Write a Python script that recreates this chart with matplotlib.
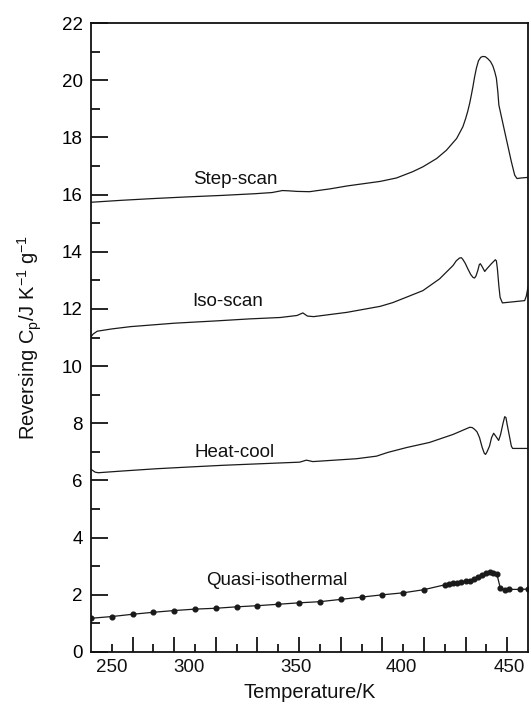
import matplotlib
matplotlib.use("Agg")
import matplotlib.pyplot as plt

plt.rcParams['font.family'] = ['Liberation Sans', 'DejaVu Sans']
plt.rcParams['mathtext.fontset'] = 'custom'
plt.rcParams['mathtext.rm'] = 'Liberation Sans'
plt.rcParams['mathtext.it'] = 'Liberation Sans:italic'

# ---------------- data ----------------
step_T = [250, 265, 280, 297, 313, 329, 337, 342, 345, 349, 355, 365, 373, 380, 389,
          396.8, 404.6, 409.5, 416.1, 420.8, 425.7, 428.7, 430.0, 431.0, 432.0, 432.8,
          433.6, 434.3, 435.2, 436.2, 437.3, 438.3, 439.5, 440.7, 442.0, 443.1, 444.0,
          444.8, 445.5, 446.0, 448.8, 452.0, 453.6, 454.7, 456.8, 460]
step_cp = [15.73, 15.80, 15.86, 15.92, 15.97, 16.03, 16.07, 16.14, 16.13, 16.11, 16.10,
           16.20, 16.30, 16.37, 16.46, 16.58, 16.80, 16.97, 17.26, 17.55, 17.96, 18.37,
           18.65, 18.90, 19.20, 19.49, 19.80, 20.10, 20.42, 20.68, 20.80, 20.83, 20.82,
           20.75, 20.65, 20.50, 20.30, 20.07, 19.60, 19.13, 18.20, 17.15, 16.68, 16.56,
           16.58, 16.60]

iso_T = [250, 251, 253, 260, 269, 290, 310, 326, 341, 349, 351.8, 354, 357, 373, 389,
         395, 401.6, 409.5, 417.5, 424.0, 425.5, 427.1, 428.0, 428.7, 429.8, 431.1,
         432.5, 433.6, 434.3, 435.0, 435.9, 436.6, 437.1, 437.8, 439.2, 440.2, 442.4,
         444.3, 444.8, 445.3, 446.0, 446.6, 447.7, 458.4, 459.2, 460]
iso_cp = [11.02, 11.12, 11.22, 11.30, 11.38, 11.50, 11.58, 11.65, 11.70, 11.77, 11.86,
          11.75, 11.73, 11.88, 12.09, 12.22, 12.41, 12.64, 13.05, 13.52, 13.68, 13.78,
          13.79, 13.73, 13.60, 13.40, 13.20, 13.10, 13.08, 13.15, 13.35, 13.55, 13.58,
          13.50, 13.31, 13.40, 13.58, 13.72, 13.68, 13.40, 12.80, 12.40, 12.21, 12.29,
          12.45, 12.76]

hc_T = [250, 252, 253.5, 265, 281.5, 297, 313.4, 330, 350.3, 353.5, 356.6, 377.6, 387.2,
        392.6, 401.6, 412.7, 424, 432, 433.2, 434.3, 435.5, 436.7, 438.0, 439.0, 439.6,
        440.3, 441.5, 442.5, 443.5, 444.5, 445.9, 446.8, 448.0, 448.8, 449.4, 450.0,
        451.1, 452.0, 452.6, 460]
hc_cp = [6.39, 6.29, 6.27, 6.33, 6.41, 6.47, 6.53, 6.58, 6.64, 6.71, 6.66, 6.76, 6.85,
         6.98, 7.15, 7.33, 7.61, 7.86, 7.85, 7.79, 7.70, 7.50, 7.15, 6.95, 6.91, 7.00,
         7.20, 7.50, 7.65, 7.55, 7.40, 7.60, 8.00, 8.23, 8.20, 7.95, 7.54, 7.20, 7.12,
         7.12]

qi_T = [250, 260, 270, 280, 290, 300, 310, 320, 330, 340, 350, 360, 370, 380, 390, 400,
        410, 420, 422, 424, 426, 428, 430, 432, 434, 436, 438, 440, 441.5, 443, 445,
        446.7, 448.8, 450.8, 456, 460]
qi_cp = [1.18, 1.24, 1.32, 1.39, 1.45, 1.50, 1.53, 1.58, 1.62, 1.67, 1.72, 1.76, 1.84,
         1.92, 2.00, 2.07, 2.18, 2.35, 2.37, 2.40, 2.42, 2.44, 2.47, 2.50, 2.55, 2.62,
         2.71, 2.78, 2.80, 2.76, 2.74, 2.23, 2.18, 2.19, 2.19, 2.20]

curve_labels = ['Step-scan', 'Iso-scan', 'Heat-cool', 'Quasi-isothermal']
label_T = [299.0, 298.5, 299.9, 305.5]
label_cp = [16.36, 12.10, 6.83, 2.33]

y_major = [0, 2, 4, 6, 8, 10, 12, 14, 16, 18, 20, 22]
y_minor = [1, 3, 5, 7, 9, 11, 13, 15, 17, 19, 21]
x_long_ticks = [270, 290, 310, 330, 350, 370, 390, 410, 430, 450]
x_short_ticks = [260, 280, 300, 320, 340, 360, 380, 400, 420, 440]
x_label_pos = [259.8, 297.2, 348.6, 399.0, 450.8]
x_label_txt = ['250', '300', '350', '400', '450']

# ---------------- figure ----------------
fig = plt.figure(figsize=(5.31, 7.15), dpi=100)
ax = fig.add_axes([91/531, 1-652/715, (528-91)/531, (652-23)/715])

lc = '#1a1a1a'
ax.plot(step_T, step_cp, color=lc, lw=0.9)
ax.plot(iso_T, iso_cp, color=lc, lw=0.9)
ax.plot(hc_T, hc_cp, color=lc, lw=0.9)
ax.plot(qi_T, qi_cp, color=lc, lw=0.9, marker='o', ms=3.4, mfc=lc, mec=lc)

for t, x, y in zip(curve_labels, label_T, label_cp):
    ax.text(x, y, t, ha='left', va='baseline', fontsize=13.5, color='#111')

ax.set_xlim(250, 460)
ax.set_ylim(0, 22)

ax.set_yticks(y_major)
ax.set_yticks(y_minor, minor=True)
ax.tick_params(axis='y', which='major', direction='in', length=12, width=1.2,
               labelsize=13.5, pad=6, right=False)
ax.tick_params(axis='y', which='minor', direction='in', length=6.5, width=1.2, right=False)

ax.set_xticks(x_long_ticks)
ax.set_xticklabels([])
ax.set_xticks(x_short_ticks, minor=True)
ax.tick_params(axis='x', which='major', direction='in', length=11, width=1.2, top=False)
ax.tick_params(axis='x', which='minor', direction='in', length=5.5, width=1.2, top=False)

for x, t in zip(x_label_pos, x_label_txt):
    ax.annotate(t, (x, 0), xycoords=('data', 'axes fraction'), xytext=(0, -5),
                textcoords='offset points', ha='center', va='top', fontsize=13.5,
                color='#111', annotation_clip=False)

for s in ax.spines.values():
    s.set_linewidth(1.3)
    s.set_color('#111')

ax.set_ylabel(r'Reversing C$_\mathregular{p}$/J K$^{\mathregular{-1}}$ g$^{\mathregular{-1}}$',
              fontsize=14.5, color='#111')
ax.yaxis.set_label_coords(-0.108, 0.5)
ax.set_xlabel('Temperature/K', fontsize=14.5, color='#111')
ax.xaxis.set_label_coords(0.5, -0.05)

fig.savefig('out.png', dpi=100)
